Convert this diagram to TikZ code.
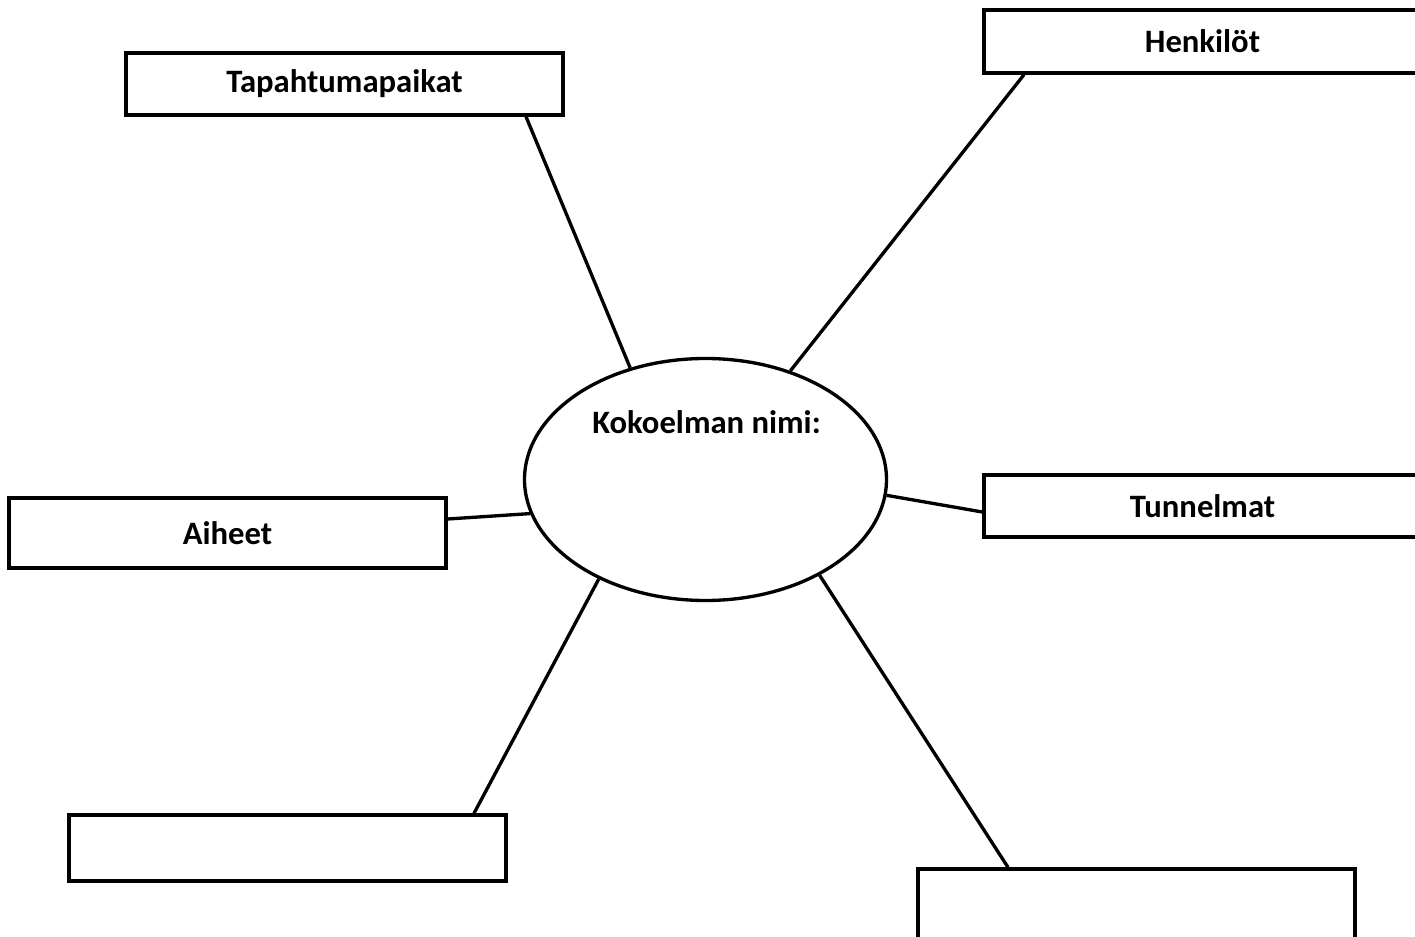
\documentclass[tikz,border=0pt]{standalone}
\usepackage{fontspec}
\setmainfont{Carlito}
\usetikzlibrary{calc,shapes.geometric}

\begin{document}
\begin{tikzpicture}[x=0.75pt,y=-0.75pt,
    box/.style={draw=black,line width=2.5pt,minimum width=437*0.75pt,inner sep=0pt,
      font=\fontsize{24.5}{29}\selectfont\bfseries},
    spoke/.style={draw=black,line width=2.5pt}]
    \clip (0,0) rectangle (1415,937);

    \node[box,minimum height=62*0.75pt] (paikat) at (344.5,84) {Tapahtumapaikat};
    \node[box,minimum height=63*0.75pt] (henk) at (1202.5,41.5) {Henkilöt};
    \node[box,minimum height=70*0.75pt] (aiheet) at (227.5,533) {Aiheet};
    \node[box,minimum height=62*0.75pt] (tunn) at (1202.5,506) {Tunnelmat};
    \node[box,minimum height=66*0.75pt] (tyhja1) at (287.5,848) {};
    \node[box,minimum height=82*0.75pt] (tyhja2) at (1136.5,910) {};

    \node[draw=black,line width=2.5pt,ellipse,minimum width=362*0.75pt,minimum height=242*0.75pt,
      inner sep=0pt] (nimi) at (705.5,479.5) {};
    \node[font=\fontsize{24.5}{29}\selectfont\bfseries] (nimiteksti) at (706.5,422) {Kokoelman nimi:};

    \draw[spoke] ($(paikat.south)+(181.5,0)$) -- (nimi.124);
    \draw[spoke] ($(henk.south)+(-178.5,0)$) -- (nimi.52.4);
    \draw[spoke] ($(aiheet.east)+(0,-14)$) -- (nimi.191.3);
    \draw[spoke] ($(tunn.west)+(0,6)$) -- (nimi.-5.8);
    \draw[spoke] ($(tyhja1.north)+(186.5,0)$) -- (nimi.223.3);
    \draw[spoke] ($(tyhja2.north)+(-128.5,0)$) -- (nimi.-40.6);

  \end{tikzpicture}
\end{document}
